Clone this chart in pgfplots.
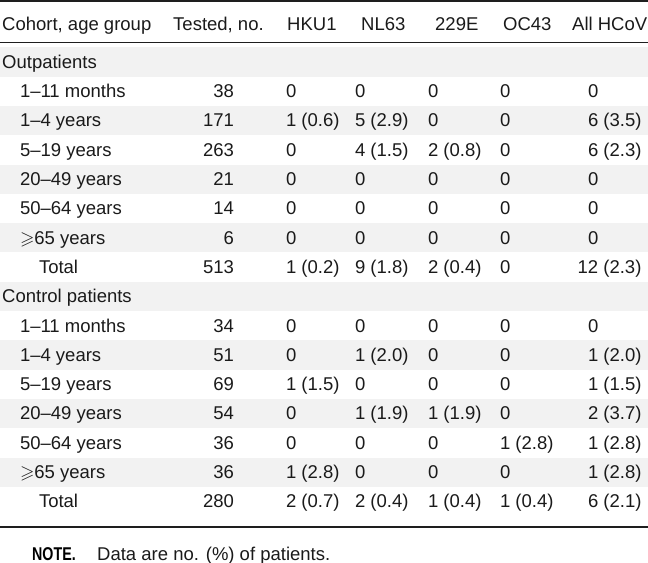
\documentclass[border=0pt]{standalone}
\usepackage{amssymb}
\usepackage{graphicx}
\usepackage{pgfplots}
\pgfplotsset{compat=1.18}
\usepackage{pgfplotstable}
\usepackage{fontspec}
\setmainfont{Liberation Sans}
\newcommand\tf{\fontsize{18.5bp}{22bp}\selectfont}
\definecolor{band}{HTML}{F2F2F2}
\definecolor{rulec}{HTML}{1E1E1E}
\definecolor{txt}{HTML}{1A1A1A}

\pgfplotstableread[col sep=comma, row sep=\\]{
y,lx,label,tested,hku,nl,ez,oc,all,ax\\
97.6,20,1–11 months,38,0,0,0,0,0,588\\
126.9,20,1–4 years,171,1 (0.6),5 (2.9),0,0,6 (3.5),588\\
156.2,20,5–19 years,263,0,4 (1.5),2 (0.8),0,6 (2.3),588\\
185.5,20,20–49 years,21,0,0,0,0,0,588\\
214.8,20,50–64 years,14,0,0,0,0,0,588\\
244.1,20,$\geqslant$65 years,6,0,0,0,0,0,588\\
273.4,39,Total,513,1 (0.2),9 (1.8),2 (0.4),0,12 (2.3),577.7\\
332.0,20,1–11 months,34,0,0,0,0,0,588\\
361.3,20,1–4 years,51,0,1 (2.0),0,0,1 (2.0),588\\
390.6,20,5–19 years,69,1 (1.5),0,0,0,1 (1.5),588\\
419.9,20,20–49 years,54,0,1 (1.9),1 (1.9),0,2 (3.7),588\\
449.2,20,50–64 years,36,0,0,0,1 (2.8),1 (2.8),588\\
478.5,20,$\geqslant$65 years,36,1 (2.8),0,0,0,1 (2.8),588\\
507.8,39,Total,280,2 (0.7),2 (0.4),1 (0.4),1 (0.4),6 (2.1),588\\
}\datatab

\begin{document}
\begin{tikzpicture}
\begin{axis}[
  width=648bp, height=563bp, scale only axis,
  xmin=0, xmax=648, ymin=0, ymax=563, y dir=reverse,
  hide axis, clip=false,
  every node near coord/.append style={font=\tf, text=txt, inner sep=0pt, outer sep=0pt},
  lbl/.style={draw=none, mark=none, nodes near coords, point meta=explicit symbolic,
    every node near coord/.append style={anchor=base west}},
  lble/.style={draw=none, mark=none, nodes near coords, point meta=explicit symbolic,
    every node near coord/.append style={anchor=base east}},
]
% background bands (centres of shaded rows)
\pgfplotsinvokeforeach{62,120.6,179.2,237.8,296.4,355,413.6,472.2}{
  \fill[band] (axis cs:0,#1-14.65) rectangle (axis cs:648,#1+14.65);
}
% rules
\draw[rulec, line width=1.6bp] (axis cs:0,0.9) -- (axis cs:648,0.9);
\draw[rulec, line width=1.4bp] (axis cs:0,42.8) -- (axis cs:648,42.8);
\draw[rulec, line width=1.4bp] (axis cs:0,527) -- (axis cs:648,527);

% header and section titles
\begin{scope}[every node/.style={font=\tf, text=txt, inner sep=0pt, anchor=base west}]
\node at (axis cs:2,31) {Cohort, age group};
\node at (axis cs:173,31) {Tested, no.};
\node at (axis cs:287,31) {HKU1};
\node at (axis cs:361,31) {NL63};
\node at (axis cs:435,31) {229E};
\node at (axis cs:503,31) {OC43};
\node at (axis cs:572,31) {All HCoV};
\node at (axis cs:2,68.3) {Outpatients};
\node at (axis cs:2,302.7) {Control patients};
\node[text=black] at (axis cs:32,560) {\scalebox{0.77}[1]{\textbf{NOTE.}}};
\node at (axis cs:97,560) {Data are no. (\%) of patients.};
\end{scope}

% data
\addplot[lbl] table[x=lx, y=y, meta=label] {\datatab};
\addplot[lble] table[x expr=234, y=y, meta=tested] {\datatab};
\addplot[lbl] table[x expr=286, y=y, meta=hku] {\datatab};
\addplot[lbl] table[x expr=355, y=y, meta=nl] {\datatab};
\addplot[lbl] table[x expr=428, y=y, meta=ez] {\datatab};
\addplot[lbl] table[x expr=500, y=y, meta=oc] {\datatab};
\addplot[lbl] table[x=ax, y=y, meta=all] {\datatab};
\end{axis}
\pgfresetboundingbox
\path[use as bounding box] (current axis.south west) rectangle (current axis.north east);
\end{tikzpicture}
\end{document}
